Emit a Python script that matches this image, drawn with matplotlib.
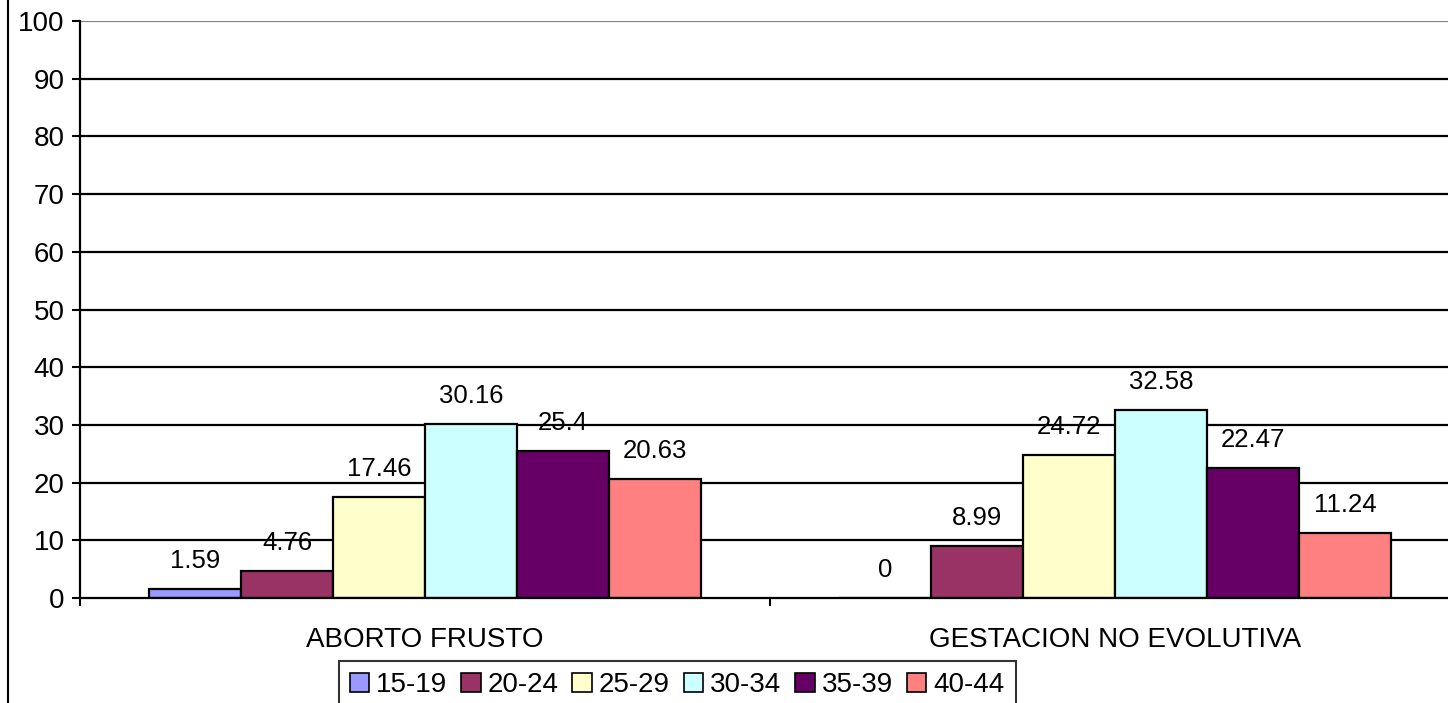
import matplotlib
matplotlib.use("Agg")
import matplotlib.pyplot as plt
from matplotlib.patches import Patch
from matplotlib.lines import Line2D
import numpy as np

plt.rcParams['font.family'] = ['Liberation Sans', 'DejaVu Sans']

categories = ["ABORTO FRUSTO", "GESTACION NO EVOLUTIVA"]
age_groups = ["15-19", "20-24", "25-29", "30-34", "35-39", "40-44"]
values = {
    "15-19": [1.59, 0],
    "20-24": [4.76, 8.99],
    "25-29": [17.46, 24.72],
    "30-34": [30.16, 32.58],
    "35-39": [25.4, 22.47],
    "40-44": [20.63, 11.24],
}
colors = ["#9999FF", "#993366", "#FFFFCC", "#CCFFFF", "#660066", "#FF8080"]
y_ticks = [0, 10, 20, 30, 40, 50, 60, 70, 80, 90, 100]

W, H = 1448, 703
fig = plt.figure(figsize=(W / 100, H / 100), dpi=100)
left_px, right_px, top_px, bot_px = 80, 1460, 21, 598
ax = fig.add_axes([left_px / W, (H - bot_px) / H,
                   (right_px - left_px) / W, (bot_px - top_px) / H])

n = len(age_groups)
gap = 1.5
bw = 1.0 / (n + gap)
x = np.arange(len(categories))
for i, (g, c) in enumerate(zip(age_groups, colors)):
    pos = x - 0.5 + bw * (gap / 2 + i + 0.5)
    ax.bar(pos, values[g], width=bw, color=c, edgecolor="black",
           linewidth=1.6, zorder=3)
    for px_, v in zip(pos, values[g]):
        ax.annotate(f"{v:g}", (px_, v), xytext=(0, 28),
                    textcoords="offset pixels", ha="center", va="center",
                    fontsize=18.5, zorder=4)

ax.set_xlim(-0.5, 1.5)
ax.set_ylim(0, 100)
ax.set_yticks(y_ticks)
ax.tick_params(axis="y", direction="out", length=6, width=1.5,
               labelsize=20, pad=5)
for y in y_ticks[1:]:
    ax.axhline(y, color="#808080" if y == 100 else "black",
               linewidth=1.6, zorder=1)

ax.set_xticks(x)
ax.set_xticklabels(categories, fontsize=20)
ax.tick_params(axis="x", which="major", length=0, pad=21)
ax.set_xticks([-0.5, 0.5, 1.5], minor=True)
ax.tick_params(axis="x", which="minor", direction="out", length=6, width=1.5)

for s in ["top", "right"]:
    ax.spines[s].set_visible(False)
for s in ["left", "bottom"]:
    ax.spines[s].set_linewidth(1.6)
ax.spines["bottom"].set_zorder(5)

# chart area border on the left
fig.add_artist(Line2D([8 / W, 8 / W], [0, 1], color="black", linewidth=1.5,
                      transform=fig.transFigure))

handles = [Patch(facecolor=c, edgecolor="black", linewidth=1.2, label=g)
           for g, c in zip(age_groups, colors)]
leg = fig.legend(handles=handles, loc="upper center",
                 bbox_to_anchor=(677 / W, (H - 661) / H), ncol=n,
                 fontsize=20, frameon=True, fancybox=False,
                 handlelength=0.7, handleheight=0.7, handletextpad=0.25,
                 columnspacing=0.5, borderpad=0.4, borderaxespad=0)
leg.get_frame().set_edgecolor("black")
leg.get_frame().set_linewidth(1.5)

fig.savefig("out.png", dpi=100)
